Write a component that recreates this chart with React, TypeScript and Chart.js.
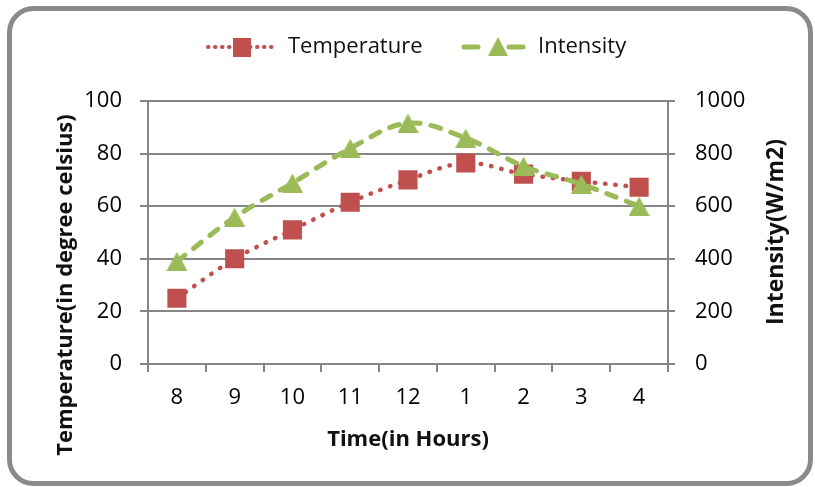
import React, { useEffect, useRef } from "react";
import { Chart, registerables } from "chart.js";

Chart.register(...registerables);

const categories = ["8", "9", "10", "11", "12", "1", "2", "3", "4"];
const temperature = [25, 40, 51, 61.5, 70, 76.4, 72.2, 69.5, 67.2];
const intensity = [390, 558, 688, 820, 916, 859, 752, 684, 600];

const RED = "#C0504D";
const GREEN = "#9BBB59";
const GRID = "#868686";
const FONT = "'Open Sans', 'DejaVu Sans', sans-serif";

function makeTriangle(w: number, h: number, color: string) {
  const c = document.createElement("canvas");
  c.width = w;
  c.height = h;
  const g = c.getContext("2d")!;
  g.fillStyle = color;
  g.beginPath();
  g.moveTo(w / 2, 0);
  g.lineTo(w, h);
  g.lineTo(0, h);
  g.closePath();
  g.fill();
  return c;
}

const framePlugin = {
  id: "frame",
  beforeDraw(chart: any) {
    const ctx = chart.ctx;
    ctx.save();
    ctx.fillStyle = "#ffffff";
    ctx.fillRect(0, 0, chart.width, chart.height);
    ctx.restore();
  },
  afterDraw(chart: any) {
    const ctx = chart.ctx as CanvasRenderingContext2D;
    ctx.save();
    // rounded frame
    ctx.strokeStyle = "#8a8a8a";
    ctx.lineWidth = 5;
    ctx.beginPath();
    (ctx as any).roundRect(9.5, 8.5, 801, 475, 24);
    ctx.stroke();

    // legend
    const ly = 47;
    ctx.lineCap = "round";
    ctx.strokeStyle = RED;
    ctx.lineWidth = 4;
    ctx.setLineDash([0.5, 6.5]);
    ctx.beginPath();
    ctx.moveTo(208, ly);
    ctx.lineTo(273, ly);
    ctx.stroke();
    ctx.setLineDash([]);
    ctx.fillStyle = RED;
    ctx.fillRect(233, ly - 9, 18, 19);

    ctx.strokeStyle = GREEN;
    ctx.lineWidth = 5;
    ctx.beginPath();
    ctx.moveTo(464, ly);
    ctx.lineTo(478, ly);
    ctx.moveTo(509, ly);
    ctx.lineTo(523, ly);
    ctx.stroke();
    ctx.fillStyle = GREEN;
    ctx.beginPath();
    ctx.moveTo(498, ly - 10);
    ctx.lineTo(508, ly + 9);
    ctx.lineTo(488, ly + 9);
    ctx.closePath();
    ctx.fill();

    ctx.fillStyle = "#111";
    ctx.font = `22px ${FONT}`;
    ctx.textAlign = "left";
    ctx.textBaseline = "middle";
    ctx.fillText("Temperature", 288, ly);
    ctx.fillText("Intensity", 538, ly);

    // axis titles
    ctx.font = `bold 22px ${FONT}`;
    ctx.textAlign = "center";
    ctx.fillText("Time(in Hours)", 408, 440);

    ctx.save();
    ctx.translate(66, 285);
    ctx.rotate(-Math.PI / 2);
    ctx.fillText("Temperature(in degree celsius)", 0, 0);
    ctx.restore();

    ctx.save();
    ctx.translate(776, 232);
    ctx.rotate(-Math.PI / 2);
    ctx.font = `bold 23px ${FONT}`;
    ctx.fillText("Intensity(W/m2)", 0, 0);
    ctx.restore();

    ctx.restore();
  },
};

export default function App() {
  const ref = useRef<HTMLCanvasElement | null>(null);

  useEffect(() => {
    document.body.style.margin = "0";
    const tri = makeTriangle(21, 19, GREEN);
    const tickFont = { family: FONT, size: 22 };
    const plain = (v: any) => String(v);
    const chart = new Chart(ref.current!, {
      type: "line",
      data: {
        labels: categories,
        datasets: [
          {
            label: "Temperature",
            data: temperature,
            yAxisID: "y",
            borderColor: RED,
            backgroundColor: RED,
            borderWidth: 4.5,
            borderDash: [0.5, 10],
            borderCapStyle: "round",
            tension: 0.35,
            pointStyle: "rect",
            pointRadius: 13.5,
            pointBorderWidth: 0,
            pointBackgroundColor: RED,
            order: 2,
          },
          {
            label: "Intensity",
            data: intensity,
            yAxisID: "y1",
            borderColor: GREEN,
            backgroundColor: GREEN,
            borderWidth: 5,
            borderDash: [10, 11],
            borderCapStyle: "round",
            tension: 0.35,
            pointStyle: tri as any,
            pointRadius: 11,
            pointBorderWidth: 0,
            pointBackgroundColor: GREEN,
            order: 1,
          },
        ],
      },
      options: {
        responsive: false,
        animation: false,
        layout: { padding: { top: 101, left: 0, right: 0, bottom: 0 } },
        plugins: {
          legend: { display: false },
          tooltip: { enabled: false },
        },
        scales: {
          x: {
            offset: true,
            grid: {
              offset: true,
              drawOnChartArea: false,
              drawTicks: true,
              tickLength: 8,
              color: GRID,
              lineWidth: 2,
            },
            border: { display: true, color: GRID, width: 2 },
            ticks: { color: "#000", font: tickFont, padding: 13, maxRotation: 0 },
            afterFit(scale: any) {
              scale.height = 123;
            },
          },
          y: {
            position: "left",
            min: 0,
            max: 100,
            ticks: { stepSize: 20, color: "#000", font: tickFont, padding: 18, callback: plain },
            grid: { color: GRID, lineWidth: 2, tickLength: 8 },
            border: { display: true, color: GRID, width: 2 },
            afterFit(scale: any) {
              scale.width = 148;
            },
          },
          y1: {
            position: "right",
            min: 0,
            max: 1000,
            ticks: { stepSize: 200, color: "#000", font: tickFont, padding: 20, callback: plain },
            grid: { drawOnChartArea: false, color: GRID, lineWidth: 2, tickLength: 7 },
            border: { display: true, color: GRID, width: 2 },
            afterFit(scale: any) {
              scale.width = 147;
            },
          },
        },
      },
      plugins: [framePlugin],
    });
    return () => chart.destroy();
  }, []);

  return (
    <div style={{ width: 815, height: 487 }}>
      <canvas ref={ref} width={815} height={487} style={{ display: "block", width: 815, height: 487 }} />
    </div>
  );
}
